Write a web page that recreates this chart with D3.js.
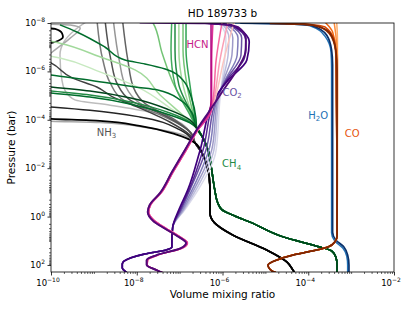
<!DOCTYPE html>
<html>
<head>
<meta charset="utf-8">
<script src="https://cdn.jsdelivr.net/npm/d3@7"></script>
<style>
  body { margin: 0; background: #fff; }
  svg { font-family: 'DejaVu Sans', sans-serif; }
</style>
</head>
<body>
<div id="chart"></div>
<script>
const margin = { top: 23, right: 21, bottom: 39, left: 51 };
const width = 415 - margin.left - margin.right;
const height = 311 - margin.top - margin.bottom;

const xDomain = [1e-10, 1e-2];
const yDomain = [1e-8, 195];
const xMajorTicks = [1e-10, 1e-8, 1e-6, 1e-4, 1e-2];
const yMajorTicks = [1e-8, 1e-6, 1e-4, 1e-2, 1e0, 1e2];

// profiles: [volume mixing ratio, pressure (bar)], top of atmosphere first
const h2oNavy = [[2.6e-6, 1.02e-8], [3.7e-5, 1.1e-8], [1.2e-4, 1.27e-8], [2.7e-4, 3.2e-8], [3.5e-4, 1.3e-7], [3.7e-4, 5.5e-7], [3.7e-4, 1.8e-3], [3.7e-4, 4.4], [4.4e-4, 9.3], [6.8e-4, 18], [8.3e-4, 39], [8.9e-4, 100], [8.9e-4, 234]];
const h2oBlue = [[1.95e-6, 1.01e-8], [2.8e-5, 1.08e-8], [1.1e-4, 1.3e-8], [2.45e-4, 3.5e-8], [3.4e-4, 1.6e-7], [3.5e-4, 7.2e-7], [3.5e-4, 1.8e-3], [3.5e-4, 4.8], [4.2e-4, 10.5], [6.4e-4, 20], [7.9e-4, 43], [8.3e-4, 100], [8.3e-4, 234]];

const coDeep = [[4.7e-4, 6.3], [4.2e-4, 11], [2.9e-4, 18], [1.29e-4, 26], [4.4e-5, 39], [1.86e-5, 62], [1.15e-5, 100], [1.26e-5, 147], [1.58e-5, 195], [2.2e-5, 234]];
const coA = [[4.6e-4, 9.1e-9], [4.8e-4, 5e-8], [4.8e-4, 1.5e-5], [4.8e-4, 3.1e-2]];
const coB = [[4.0e-4, 9.1e-9], [4.4e-4, 3.2e-8], [4.8e-4, 3.4e-7], [4.8e-4, 1.5e-5], [4.7e-4, 3.1e-2]];
const coC = [[2.45e-4, 9.1e-9], [3.7e-4, 2.35e-8], [4.4e-4, 1.3e-7], [4.5e-4, 1.5e-5], [4.7e-4, 3.1e-2]];
const coD = [[6.3e-5, 1.02e-8], [2.45e-4, 1.45e-8], [4.0e-4, 5e-8], [4.6e-4, 5.5e-7], [4.6e-4, 1.5e-5], [4.7e-4, 3.1e-2]];
const coE = [[2.8e-5, 1.03e-8], [1.65e-4, 1.3e-8], [3.5e-4, 3.8e-8], [4.4e-4, 2.1e-7], [4.5e-4, 1.5e-5], [4.7e-4, 3.1e-2]];
const coF = [[1.26e-5, 1.04e-8], [1.2e-4, 1.2e-8], [3.2e-4, 2.6e-8], [4.4e-4, 1.3e-7], [4.7e-4, 8.7e-7], [4.7e-4, 3.1e-2]];

const ch4Deep = [[2.5e-7, 2.2e-4], [3.5e-7, 5.6e-4], [4.6e-7, 1.8e-3], [5.6e-7, 1.2e-2], [6.6e-7, 7.9e-2], [7.8e-7, 0.28], [9.8e-7, 0.53], [1.95e-6, 0.95], [4.4e-6, 1.7], [2.6e-5, 6.9], [1.86e-4, 18], [3.5e-4, 26], [4.4e-4, 47], [4.7e-4, 100], [4.7e-4, 234]];
const ch4G1 = [[1.62e-10, 1.2e-8], [4.0e-10, 2.35e-8], [1.8e-9, 9.8e-8], [5.3e-9, 3.4e-7], [1.55e-8, 4.9e-7], [4.6e-8, 7.9e-7], [1.2e-7, 2.3e-6], [1.95e-7, 1.5e-5], [2.4e-7, 8.5e-5]];
const ch4G2 = [[5.5e-11, 1.17e-6], [1e-10, 1.4e-6], [8.1e-10, 2.3e-6], [9.1e-9, 4.4e-6], [3.1e-8, 5.9e-6], [1.02e-7, 1.5e-5], [1.95e-7, 5.2e-5]];
const ch4G3 = [[5.5e-11, 4.0e-6], [8.1e-10, 6.5e-6], [9.1e-9, 1.38e-5], [5.9e-8, 4.0e-5], [1.74e-7, 1.0e-4]];
const ch4G4 = [[5.5e-11, 5.9e-6], [8.1e-10, 9.5e-6], [9.1e-9, 2.0e-5], [5.9e-8, 5.2e-5], [1.74e-7, 1.23e-4]];
const ch4G5 = [[5.5e-11, 7.1e-6], [8.1e-10, 1.15e-5], [9.1e-9, 2.5e-5], [5.9e-8, 6.3e-5], [1.74e-7, 1.35e-4]];
const ch4G6 = [[7.2e-11, 5e-8], [1.62e-10, 6.8e-8], [1.38e-9, 2.5e-7], [9.1e-9, 8.7e-7], [3.5e-8, 9.5e-6], [1.32e-7, 7.6e-5]];
const ch4G7 = [[7.2e-11, 2.1e-7], [1.62e-10, 2.8e-7], [1.38e-9, 1.05e-6], [1.17e-8, 4.9e-6], [5.9e-8, 3.2e-5], [1.74e-7, 1.23e-4]];
const ch4G8 = [[2.0e-8, 6.2e-9], [2.4e-8, 1e-8], [3.9e-8, 1.74e-7], [7.8e-8, 4.4e-6], [1.74e-7, 4.8e-5]];
const ch4G9 = [[6.6e-8, 6.2e-9], [6.3e-8, 1.3e-7], [7.8e-8, 3.6e-6], [1.74e-7, 6.3e-5]];
const ch4G10 = [[7.8e-8, 6.2e-9], [7.8e-8, 1.3e-7], [9.6e-8, 3.6e-6], [1.95e-7, 6.3e-5]];
const ch4G11 = [[9.6e-8, 6.2e-9], [9.6e-8, 1.3e-7], [1.2e-7, 3.6e-6], [2.0e-7, 6.9e-5]];
const ch4G12 = [[1.2e-7, 6.2e-9], [1.2e-7, 1.3e-7], [1.48e-7, 3.6e-6], [2.15e-7, 7.6e-5]];
const ch4G13 = [[1.41e-7, 6.2e-9], [1.41e-7, 1.3e-7], [1.74e-7, 3.6e-6], [2.3e-7, 8.5e-5]];

const nh3Deep = [[2.3e-7, 9.1e-4], [3.5e-7, 2.8e-3], [4.4e-7, 8.9e-3], [5.1e-7, 6.0e-2], [5.1e-7, 0.71], [6.3e-7, 1.7], [1.74e-6, 5.8], [1.07e-5, 24], [3.2e-5, 76], [4.4e-5, 162], [5.1e-5, 257]];
const nh3N1 = [[5.5e-11, 1.6e-8], [1.24e-10, 1.75e-8], [1.8e-10, 2.6e-8], [1.9e-10, 3.8e-8], [1.24e-10, 6.1e-8], [5.5e-11, 8.9e-8], [3e-11, 1e-6], [5.5e-11, 8.5e-5], [1.38e-9, 1.1e-4], [1.17e-8, 1.8e-4], [7.8e-8, 3.9e-4]];
const nh3N2 = [[5.5e-11, 2.7e-5], [8.1e-10, 4.0e-5], [1.17e-8, 7.6e-5], [1.02e-7, 2.6e-4]];
const nh3N3 = [[5.5e-11, 2.8e-7], [1e-10, 4.5e-7], [3.2e-10, 1.9e-6], [1.17e-9, 4.4e-6], [2.8e-9, 1.15e-5], [9.1e-9, 2.7e-5], [5.9e-8, 1.23e-4], [1.74e-7, 4.3e-4]];
const nh3N4 = [[1.17e-9, 6.2e-9], [1.62e-9, 3.4e-7], [2.4e-9, 3.0e-6], [4.8e-9, 1.5e-5], [3.5e-8, 6.3e-5], [1.74e-7, 3.1e-4]];
const nh3N5 = [[1.8e-9, 6.2e-9], [2.5e-9, 3.4e-7], [3.6e-9, 3.6e-6], [6.9e-9, 1.5e-5], [4.6e-8, 6.9e-5], [1.82e-7, 3.5e-4]];
const nh3N6 = [[2.8e-9, 6.2e-9], [3.9e-9, 3.4e-7], [5.6e-9, 4.4e-6], [1.07e-8, 1.8e-5], [5.9e-8, 8.5e-5], [1.95e-7, 3.9e-4]];
const nh3N7 = [[4.6e-9, 6.2e-9], [6.2e-9, 3.4e-7], [8.5e-9, 4.9e-6], [1.6e-8, 2.2e-5], [7.8e-8, 1.0e-4], [2.0e-7, 4.3e-4]];
const nh3N8 = [[9.1e-10, 6.2e-9], [3.6e-10, 1.95e-8], [2.0e-10, 6.1e-8], [1.62e-10, 2.1e-7], [1.8e-10, 2.3e-6], [2.1e-10, 5.9e-6], [3.6e-10, 1.5e-5], [2.4e-9, 2.5e-5], [2.0e-8, 4.8e-5], [1.32e-7, 1.8e-4]];
const nh3N9 = [[7.2e-11, 1.1e-8], [2.8e-10, 1.2e-8], [4.8e-10, 1.6e-8], [2.8e-10, 4.2e-8], [1.24e-10, 1.3e-7], [7.2e-11, 2.8e-7], [3e-11, 3e-6], [5.5e-11, 1.1e-4], [1.38e-9, 1.3e-4], [2.0e-8, 2.2e-4], [1.55e-7, 5e-4]];

const co2Deep = [[6.9e-8, 2.7], [6.6e-8, 9.3], [6.6e-8, 18], [4.8e-8, 24], [1.55e-8, 35], [7.2e-9, 51], [4.6e-9, 91], [4.6e-9, 132], [5.6e-9, 195], [6.9e-9, 257]];
const co2L0 = [[3.0e-7, 8.3e-9], [8.7e-7, 1.1e-8], [1.2e-6, 4.2e-8], [1.15e-6, 2.1e-7], [9.8e-7, 2.3e-6], [8.7e-7, 1.5e-5], [7.1e-7, 1.8e-3], [2.7e-7, 7.9e-2], [1.32e-7, 0.53]];
const co2L1 = [[2.3e-7, 8.3e-9], [9.8e-7, 1.1e-8], [1.41e-6, 4.2e-8], [1.35e-6, 2.1e-7], [1.02e-6, 2.3e-6], [8.2e-7, 1.5e-5], [6.3e-7, 1.8e-3], [2.4e-7, 7.9e-2], [1.26e-7, 0.53]];
const co2L2 = [[1.74e-7, 8.3e-9], [1.07e-6, 1.1e-8], [1.74e-6, 4.2e-8], [1.66e-6, 2.1e-7], [1.07e-6, 2.3e-6], [7.8e-7, 1.5e-5], [5.6e-7, 1.8e-3], [2.15e-7, 7.9e-2], [1.2e-7, 0.53]];
const co2L3 = [[1.02e-7, 8.3e-9], [1.2e-6, 1.2e-8], [2.3e-6, 4.2e-8], [2.2e-6, 2.1e-7], [1.15e-6, 2.3e-6], [7.4e-7, 1.5e-5], [4.8e-7, 1.8e-3], [1.95e-7, 7.9e-2], [1.12e-7, 0.53]];
const co2L4 = [[5.9e-8, 8.3e-9], [1.35e-6, 1.2e-8], [2.8e-6, 4.2e-8], [2.7e-6, 2.1e-7], [1.2e-6, 2.3e-6], [7.1e-7, 1.5e-5], [4.1e-7, 1.8e-3], [1.74e-7, 7.9e-2], [1.07e-7, 0.53]];
const co2L5 = [[3.5e-8, 8.3e-9], [1.48e-6, 1.2e-8], [3.5e-6, 5.0e-8], [3.3e-6, 2.5e-7], [1.26e-6, 2.3e-6], [6.6e-7, 1.5e-5], [3.5e-7, 1.8e-3], [1.66e-7, 7.9e-2], [1.02e-7, 0.53]];
const co2L6 = [[2.0e-8, 8.3e-9], [1.66e-6, 1.2e-8], [4.2e-6, 6.1e-8], [3.7e-6, 3.4e-7], [1.35e-6, 2.3e-6], [6.3e-7, 1.5e-5], [3.0e-7, 1.8e-3], [1.55e-7, 7.9e-2], [9.6e-8, 0.53]];

const hcnDeepA = [[5.1e-7, 4.0e-5], [2.5e-7, 2.6e-4], [1.32e-7, 1.8e-3], [6.6e-8, 1.45e-2], [3.5e-8, 0.105], [2.0e-8, 0.33], [1.8e-8, 0.65], [2.4e-8, 1.5], [4.6e-8, 3.2], [8.7e-8, 6.3], [1.41e-7, 12.3], [1.07e-7, 20], [2.9e-8, 39], [1.7e-8, 62], [1.7e-8, 100], [2.9e-8, 162], [4.6e-8, 234]];
const hcnDeepB = [[5.4e-7, 4.4e-5], [2.6e-7, 2.8e-4], [1.4e-7, 1.9e-3], [7.0e-8, 1.45e-2], [3.7e-8, 0.105], [2.1e-8, 0.33], [1.9e-8, 0.65], [2.6e-8, 1.5], [5.0e-8, 3.2], [9.4e-8, 6.3], [1.52e-7, 12.3], [1.15e-7, 20], [3.1e-8, 39], [1.8e-8, 62], [1.75e-8, 100], [2.9e-8, 162], [4.6e-8, 234]];
const hcnDark = [[1.17e-8, 9.5e-9], [3.9e-7, 1.03e-8], [2.3e-6, 1.48e-8], [3.5e-6, 4.2e-8], [3.5e-6, 1.3e-7], [2.3e-6, 7.2e-7], [9.8e-7, 7.1e-6]];
const hcnMagenta = [[3.9e-7, 8.3e-9], [5.4e-7, 1.1e-8], [5.4e-7, 3.4e-7], [5.4e-7, 1.5e-5]];
const hcnH3 = [[6.0e-7, 9.1e-9], [5.6e-7, 3.4e-7], [5.6e-7, 1.5e-5]];
const hcnH4 = [[9.8e-7, 9.1e-9], [7.1e-7, 3.4e-7], [6.0e-7, 1.5e-5]];
const hcnH5 = [[1.35e-6, 9.1e-9], [8.7e-7, 3.4e-7], [6.3e-7, 1.5e-5]];
const hcnH6 = [[1.86e-6, 9.1e-9], [1.07e-6, 3.4e-7], [6.6e-7, 1.5e-5]];

// drawing order: light first, dark last within each species
const profiles = [
  { pts: nh3N8.concat(nh3Deep), color: '#bdbdbd' },
  { pts: nh3N9.concat(nh3Deep), color: '#a8a8a8' },
  { pts: nh3N6.concat(nh3Deep), color: '#969696' },
  { pts: nh3N4.concat(nh3Deep), color: '#7a7a7a' },
  { pts: nh3N7.concat(nh3Deep), color: '#636363' },
  { pts: nh3N5.concat(nh3Deep), color: '#525252' },
  { pts: nh3N3.concat(nh3Deep), color: '#404040' },
  { pts: nh3N2.concat(nh3Deep), color: '#252525' },
  { pts: nh3N1.concat(nh3Deep), color: '#000000', w: 1.8 },

  { pts: ch4G7.concat(ch4Deep), color: '#c7e9c0' },
  { pts: ch4G6.concat(ch4Deep), color: '#a1d99b' },
  { pts: ch4G11.concat(ch4Deep), color: '#a1d99b' },
  { pts: ch4G8.concat(ch4Deep), color: '#74c476' },
  { pts: ch4G12.concat(ch4Deep), color: '#74c476' },
  { pts: ch4G9.concat(ch4Deep), color: '#41ab5d' },
  { pts: ch4G13.concat(ch4Deep), color: '#31a354' },
  { pts: ch4G10.concat(ch4Deep), color: '#238b45' },
  { pts: ch4G4.concat(ch4Deep), color: '#238b45' },
  { pts: ch4G5.concat(ch4Deep), color: '#006d2c' },
  { pts: ch4G2.concat(ch4Deep), color: '#006d2c' },
  { pts: ch4G1.concat(ch4Deep), color: '#006d2c' },
  { pts: ch4G3.concat(ch4Deep), color: '#00441b' },

  { pts: h2oBlue, color: '#2171b5' },
  { pts: h2oNavy, color: '#08306b', w: 1.7 },

  { pts: coA.concat(coDeep), color: '#fdae6b' },
  { pts: coB.concat(coDeep), color: '#fd8d3c' },
  { pts: coC.concat(coDeep), color: '#f16913' },
  { pts: coD.concat(coDeep), color: '#d94801' },
  { pts: coE.concat(coDeep), color: '#a63603' },
  { pts: coF.concat(coDeep), color: '#7f2704', w: 1.7 },

  { pts: co2L0.concat(co2Deep), color: '#dadaeb' },
  { pts: co2L1.concat(co2Deep), color: '#bcbddc' },
  { pts: co2L2.concat(co2Deep), color: '#9e9ac8' },
  { pts: co2L3.concat(co2Deep), color: '#807dba' },
  { pts: co2L4.concat(co2Deep), color: '#6a51a3' },
  { pts: co2L5.concat(co2Deep), color: '#54278f' },
  { pts: co2L6.concat(co2Deep), color: '#3f007d', w: 1.7 },

  { pts: hcnH6.concat(hcnDeepB), color: '#fcc5c0' },
  { pts: hcnH5.concat(hcnDeepB), color: '#fa9fb5' },
  { pts: hcnH4.concat(hcnDeepB), color: '#f768a1' },
  { pts: hcnH3.concat(hcnDeepB), color: '#dd3497' },
  { pts: hcnMagenta.concat(hcnDeepA), color: '#ae017e' },
  { pts: hcnDark.concat(hcnDeepA), color: '#4f0a78', w: 1.9 },
];

const speciesLabels = [
  { name: 'HCN', sub: '', v: 1.45e-7, p: 1.1e-7, color: '#c51b8a' },
  { name: 'CO', sub: '2', v: 1.0e-6, p: 1.0e-5, color: '#6a51a3' },
  { name: 'H', sub: '2', after: 'O', v: 1.0e-4, p: 9.0e-5, color: '#2171b5' },
  { name: 'CO', sub: '', v: 7.1e-4, p: 5.1e-4, color: '#e6550d' },
  { name: 'CH', sub: '4', v: 9.8e-7, p: 9.0e-3, color: '#238b45' },
  { name: 'NH', sub: '3', v: 1.17e-9, p: 4.6e-4, color: '#555555' },
];

const svg = d3.select('#chart')
  .append('svg')
  .attr('width', width + margin.left + margin.right)
  .attr('height', height + margin.top + margin.bottom)
  .append('g')
  .attr('transform', `translate(${margin.left},${margin.top})`);

const x = d3.scaleLog().domain(xDomain).range([0, width]);
const y = d3.scaleLog().domain(yDomain).range([0, height]);

svg.append('clipPath').attr('id', 'plot-clip')
  .append('rect').attr('width', width).attr('height', height);

const line = d3.line()
  .x((d) => x(d[0]))
  .y((d) => y(d[1]))
  .curve(d3.curveMonotoneY);

svg.append('g')
  .attr('clip-path', 'url(#plot-clip)')
  .selectAll('path')
  .data(profiles)
  .enter().append('path')
  .attr('fill', 'none')
  .attr('stroke', (d) => d.color)
  .attr('stroke-width', (d) => d.w || 1.5)
  .attr('stroke-linejoin', 'round')
  .attr('d', (d) => line(d.pts));

// minor ticks on every 1..9 x 10^k not already a major tick
function minorTicks(domain, majors) {
  const out = [];
  for (let e = Math.floor(Math.log10(domain[0])); e <= Math.ceil(Math.log10(domain[1])); e++) {
    for (let m = 1; m < 10; m++) {
      const v = m * Math.pow(10, e);
      if (v >= domain[0] && v <= domain[1] && !majors.some((t) => Math.abs(t - v) / v < 1e-6)) out.push(v);
    }
  }
  return out;
}

const axisStyle = (g) => {
  g.select('.domain').remove();
  g.selectAll('line').attr('stroke', '#000').attr('stroke-width', 0.8);
};

svg.append('g')
  .attr('transform', `translate(0,${height})`)
  .call(d3.axisBottom(x).tickValues(xMajorTicks).tickSize(3.5).tickFormat(() => ''))
  .call(axisStyle);
svg.append('g')
  .attr('transform', `translate(0,${height})`)
  .call(d3.axisBottom(x).tickValues(minorTicks(xDomain, xMajorTicks)).tickSize(2).tickFormat(() => ''))
  .call(axisStyle)
  .selectAll('line').attr('stroke-width', 0.6);
svg.append('g')
  .call(d3.axisLeft(y).tickValues(yMajorTicks).tickSize(3.5).tickFormat(() => ''))
  .call(axisStyle);
svg.append('g')
  .call(d3.axisLeft(y).tickValues(minorTicks(yDomain, yMajorTicks)).tickSize(2).tickFormat(() => ''))
  .call(axisStyle)
  .selectAll('line').attr('stroke-width', 0.6);

const expOf = (v) => Math.round(Math.log10(v));
const supText = (e) => (e < 0 ? '\u2212' + Math.abs(e) : String(e));

const xLab = svg.append('g').selectAll('text')
  .data(xMajorTicks)
  .enter().append('text')
  .attr('x', (d) => x(d) - 3)
  .attr('y', height + 14)
  .attr('text-anchor', 'middle')
  .style('font-size', '8.5px')
  .text('10');
xLab.append('tspan').attr('dy', -4).style('font-size', '6px').text((d) => supText(expOf(d)));

const yLab = svg.append('g').selectAll('text')
  .data(yMajorTicks)
  .enter().append('text')
  .attr('x', -6)
  .attr('y', (d) => y(d) + 3)
  .attr('text-anchor', 'end')
  .style('font-size', '8.5px')
  .text('10');
yLab.append('tspan').attr('dy', -4).style('font-size', '6px').text((d) => supText(expOf(d)));

// frame
svg.append('rect')
  .attr('width', width).attr('height', height)
  .attr('fill', 'none').attr('stroke', '#000').attr('stroke-width', 0.8);

svg.append('text')
  .attr('x', width / 2).attr('y', -6)
  .attr('text-anchor', 'middle')
  .style('font-size', '10.5px')
  .text('HD 189733 b');

svg.append('text')
  .attr('x', width / 2).attr('y', height + 26)
  .attr('text-anchor', 'middle')
  .style('font-size', '10.5px')
  .text('Volume mixing ratio');

svg.append('text')
  .attr('transform', `translate(${-36},${height / 2}) rotate(-90)`)
  .attr('text-anchor', 'middle')
  .style('font-size', '10.5px')
  .text('Pressure (bar)');

// species labels
speciesLabels.forEach((s) => {
  const t = svg.append('text')
    .attr('x', x(s.v)).attr('y', y(s.p))
    .style('font-size', '10px')
    .attr('fill', s.color)
    .text(s.name);
  if (s.sub) {
    t.append('tspan').attr('dy', 2.5).style('font-size', '7px').text(s.sub);
    if (s.after) t.append('tspan').attr('dy', -2.5).text(s.after);
  }
});
</script>
</body>
</html>
